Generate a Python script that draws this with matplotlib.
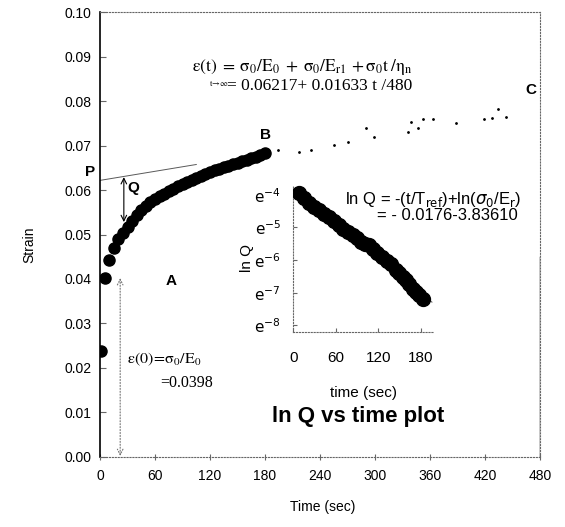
import numpy as np
import matplotlib.pyplot as plt

plt.rcParams['font.family'] = ['Liberation Sans', 'DejaVu Sans']

# strain vs time (dense part)
t_main = [1, 5, 10, 15, 20, 25, 30, 35, 40, 45, 50, 55, 60, 65, 70, 75, 80, 85, 90,
          95, 100, 105, 110, 115, 120, 125, 130, 135, 140, 145, 150, 155, 160, 165,
          170, 175, 180]
e_main = [0.0237, 0.0402, 0.0443, 0.0470, 0.0490, 0.0503, 0.0518, 0.0530, 0.0543,
          0.0555, 0.0563, 0.0572, 0.0579, 0.0586, 0.0592, 0.0598, 0.0603, 0.0608,
          0.0613, 0.0618, 0.0622, 0.0627, 0.0631, 0.0635, 0.0640, 0.0644, 0.0648,
          0.0652, 0.0655, 0.0658, 0.0661, 0.0665, 0.0668, 0.0672, 0.0675, 0.0679,
          0.0683]

# sparse dots after B
t_dots = [194, 217, 230, 255, 270, 290, 299, 336, 339, 347, 352, 363, 388, 419, 427, 434, 443]
e_dots = [0.0690, 0.0685, 0.0690, 0.0701, 0.0708, 0.0739, 0.0719, 0.0730, 0.0753,
          0.0739, 0.0760, 0.0760, 0.0751, 0.0760, 0.0762, 0.0782, 0.0764]

# asymptote from P
e_inf0 = 0.06217
e_inf_slope = 0.01633 / 480
t_fit = np.array([0, 105])

# inset: ln Q vs time
t_q = [8, 15, 22, 29, 36, 43, 50, 57, 64, 71, 78, 84, 90, 96, 102, 107, 113, 119,
       126, 132, 138, 145, 150, 155, 159, 164, 169, 173, 178, 183]
lnq = [-3.94, -4.10, -4.25, -4.36, -4.46, -4.58, -4.69, -4.80, -4.92, -5.04, -5.14,
       -5.23, -5.33, -5.43, -5.50, -5.54, -5.66, -5.77, -5.90, -6.02, -6.12, -6.30,
       -6.40, -6.52, -6.60, -6.72, -6.87, -6.97, -7.08, -7.20]
q_b, q_a = -0.0176, -3.83610
t_qfit = np.array([0, 196])

fig = plt.figure(figsize=(5.65, 5.27), dpi=100)
ax = fig.add_axes([0.177, 0.133, 0.779, 0.844])

ax.plot(t_main, e_main, 'o', color='black', ms=8, zorder=3)
ax.plot(t_dots, e_dots, '.', color='black', ms=2, zorder=3)
ax.plot(t_fit, e_inf0 + e_inf_slope * t_fit, '-', color='0.35', lw=0.7)

ax.set_xlim(0, 480)
ax.set_ylim(0, 0.10)
ax.set_xticks(np.arange(0, 481, 60))
ax.set_yticks(np.arange(0, 0.101, 0.01))
ax.set_yticklabels(['%.2f' % v for v in np.arange(0, 0.101, 0.01)])
ax.tick_params(axis='both', labelsize=10, color='0.4')
ax.tick_params(axis='x', direction='inout', length=5, pad=6)
ax.tick_params(axis='y', direction='in', length=4, pad=6)
ax.spines['left'].set_linewidth(1.2)
for s in ['top', 'bottom', 'right']:
    ax.spines[s].set_linestyle(':')
    ax.spines[s].set_color('0.4')
ax.axvline(480, 0, 0.45, color='black', lw=1)

ax.set_ylabel('Strain', fontsize=10)
ax.set_xlabel('Time (sec)', fontsize=10)
ax.yaxis.set_label_coords(-0.145, 0.476)
ax.xaxis.set_label_coords(0.505, -0.097)

# labels and arrows
bold = dict(fontsize=11, fontweight='bold', ha='center', va='center')
ax.text(-11, 0.0640, 'P', clip_on=False, **bold)
ax.text(36, 0.0605, 'Q', **bold)
ax.text(78, 0.0396, 'A', **bold)
ax.text(180, 0.0724, 'B', **bold)
ax.text(470, 0.0825, 'C', **bold)

ax.annotate('', xy=(26, 0.0528), xytext=(26, 0.0629),
            arrowprops=dict(arrowstyle='<->', color='black', lw=0.8, shrinkA=0, shrinkB=0))
ax.annotate('', xy=(22, 0.0002), xytext=(22, 0.0402),
            arrowprops=dict(arrowstyle='<->', color='0.45', lw=0.8, ls=':', shrinkA=0, shrinkB=0))

ax.text(100, 0.0876,
        r'$\mathrm{\varepsilon(t)\;=\;\sigma_0/E_0\;+\;\sigma_0/E_{r1}\,+\sigma_0 t\;/\eta_n}$',
        fontsize=12.5, va='center', math_fontfamily='stix')
ax.text(119, 0.0840, r'$\mathrm{t\!\to\!\infty}$', fontsize=6, va='center',
        math_fontfamily='stix')
ax.text(139, 0.0834, '= 0.06217+ 0.01633 t /480', fontsize=12.5, va='center',
        family=['Liberation Serif', 'DejaVu Serif'])
ax.text(29.5, 0.0220, r'$\mathrm{\varepsilon(0)\!=\!\sigma_0/E_0}$', fontsize=11.5,
        va='center', math_fontfamily='stix')
ax.text(65.5, 0.0166, '=0.0398', fontsize=11.5, va='center',
        family=['Liberation Serif', 'DejaVu Serif'])
ax.text(267, 0.0578, r'ln Q = -(t/T$_{\rm ref}$)+ln($\sigma_0$/E$_{\rm r}$)', fontsize=12,
        va='center', math_fontfamily='dejavusans')
ax.text(302, 0.0542, '= - 0.0176-3.83610', fontsize=12, va='center')
ax.text(282, 0.0090, 'ln Q vs time plot', fontsize=16, fontweight='bold',
        ha='center', va='center')

# inset
ins = fig.add_axes([0.519, 0.370, 0.248, 0.279])
ins.patch.set_alpha(0)
ins.plot(t_qfit, q_a + q_b * t_qfit, '-', color='0.35', lw=0.7)
ins.plot(t_q, lnq, 'o', color='black', ms=10, zorder=3)
ins.set_xlim(0, 198)
ins.set_ylim(-8.2, -3.7)
ins.set_xticks([0, 60, 120, 180])
ins.set_yticks([-4, -5, -6, -7, -8])
ins.set_yticklabels([r'$\mathrm{e}^{-%d}$' % n for n in [4, 5, 6, 7, 8]])
ins.tick_params(axis='both', labelsize=11, color='0.4', direction='in', length=3)
ins.tick_params(axis='x', pad=14)
ins.tick_params(axis='y', pad=9)
for lab in ins.get_yticklabels():
    lab.set_math_fontfamily('dejavusans')
ins.spines['top'].set_visible(False)
ins.spines['right'].set_visible(False)
for s in ['left', 'bottom']:
    ins.spines[s].set_linestyle(':')
    ins.spines[s].set_color('0.4')
ins.set_xlabel('time (sec)', fontsize=11, labelpad=15)
ins.set_ylabel('ln Q', fontsize=11, labelpad=0)

fig.savefig('out.png', dpi=100)
